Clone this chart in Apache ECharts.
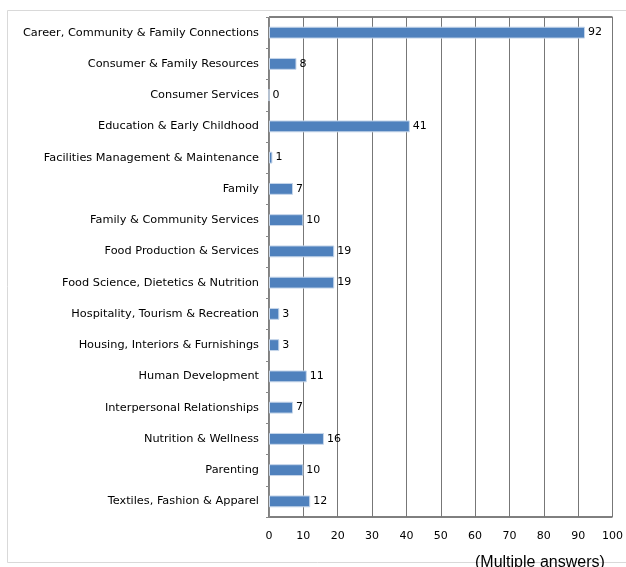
<!DOCTYPE html>
<html>
<head>
<meta charset="utf-8">
<style>
  html, body { margin: 0; padding: 0; background: #fff; overflow: hidden; }
  #chart { width: 626px; height: 567px; display: block; }
</style>
<script src="https://cdn.jsdelivr.net/npm/echarts@6/dist/echarts.min.js"></script>
</head>
<body>
<div id="chart"></div>
<script>
// Topic areas (top to bottom) and number of answers for each
const categories = [
  'Career, Community & Family Connections',
  'Consumer & Family Resources',
  'Consumer Services',
  'Education & Early Childhood',
  'Facilities Management & Maintenance',
  'Family',
  'Family & Community Services',
  'Food Production & Services',
  'Food Science, Dietetics & Nutrition',
  'Hospitality, Tourism & Recreation',
  'Housing, Interiors & Furnishings',
  'Human Development',
  'Interpersonal Relationships',
  'Nutrition & Wellness',
  'Parenting',
  'Textiles, Fashion & Apparel'
];
const answers = [92, 8, 0, 41, 1, 7, 10, 19, 19, 3, 3, 11, 7, 16, 10, 12];
const xTicks = [0, 10, 20, 30, 40, 50, 60, 70, 80, 90, 100];

const font = '"DejaVu Sans", Verdana, sans-serif';
const chart = echarts.init(document.getElementById('chart'));
chart.setOption({
  animation: false,
  backgroundColor: '#fff',
  graphic: [{
    type: 'rect',
    shape: { x: 7.5, y: 10.5, width: 640, height: 552 },
    style: { fill: 'none', stroke: '#d9d9d9', lineWidth: 1 },
    z: -1
  }, {
    type: 'text',
    left: 475, top: 555,
    style: { text: '(Multiple answers)', font: '16px "Liberation Sans", Arial, sans-serif', fill: '#000' }
  }],
  grid: { left: 269, right: 10, top: 17, bottom: 50, containLabel: false, show: true,
          borderColor: '#000', borderWidth: 1, backgroundColor: 'transparent' },
  xAxis: {
    type: 'value', min: xTicks[0], max: xTicks[xTicks.length - 1], interval: 10,
    axisLine: { show: false },
    axisTick: { show: false },
    axisLabel: { color: '#000', fontSize: 11, fontFamily: font, margin: 14 },
    splitLine: { show: true, lineStyle: { color: '#777', width: 1 } }
  },
  yAxis: {
    type: 'category', data: categories, inverse: true,
    axisLine: { show: true, lineStyle: { color: '#888' } },
    axisTick: { show: true, length: 3, inside: false, lineStyle: { color: '#888' } },
    axisLabel: { color: '#000', fontSize: 11.3, fontFamily: font, margin: 10 }
  },
  series: [{
    type: 'bar', data: answers, barCategoryGap: '62%',
    itemStyle: { color: '#4F81BD', borderColor: '#c6d6ea', borderWidth: 1 },
    label: { show: true, position: 'right', distance: 3, color: '#000', fontSize: 11, fontFamily: font }
  }]
});
</script>
</body>
</html>
